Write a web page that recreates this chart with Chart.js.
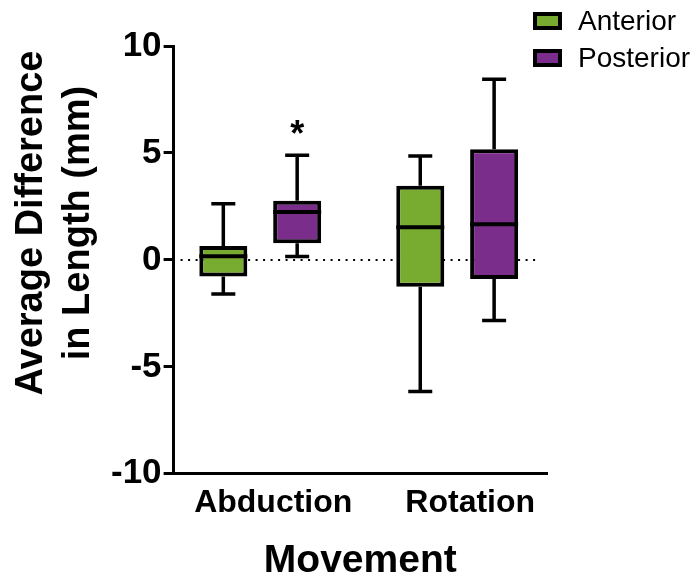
<!DOCTYPE html>
<html>
<head>
<meta charset="utf-8">
<script src="https://cdn.jsdelivr.net/npm/chart.js@4.4.0/dist/chart.umd.min.js"></script>
<style>
  html, body { margin: 0; padding: 0; background: #fff; }
  #wrap { position: relative; width: 693px; height: 578px; }
  #legend { position: absolute; left: 533px; top: 2px; font-family: 'Liberation Sans', Arial, sans-serif; font-size: 28px; color: #000; }
  .item { display: flex; align-items: center; height: 37px; }
  .swatch { box-sizing: border-box; width: 29px; height: 18px; border: 4px solid #000; margin-right: 16px; }
</style>
</head>
<body>
<div id="wrap">
  <canvas id="chart" width="693" height="578"></canvas>
  <div id="legend"></div>
</div>
<script>
const categories = ['Abduction', 'Rotation'];
const seriesNames = ['Anterior', 'Posterior'];
const seriesColors = ['#78ac30', '#7b2d8c'];

// box plot stats per category
const anteriorMin = [-1.6, -6.15];
const anteriorQ1 = [-0.78, -1.25];
const anteriorMedian = [0.17, 1.53];
const anteriorQ3 = [0.65, 3.47];
const anteriorMax = [2.62, 4.86];

const posteriorMin = [0.16, -2.83];
const posteriorQ1 = [0.78, -0.89];
const posteriorMedian = [2.24, 1.67];
const posteriorQ3 = [2.77, 5.17];
const posteriorMax = [4.89, 8.44];

const anteriorMarks = ['', ''];
const posteriorMarks = ['*', ''];

const yTicks = [-10, -5, 0, 5, 10];

const stats = [
  { min: anteriorMin, q1: anteriorQ1, med: anteriorMedian, q3: anteriorQ3, max: anteriorMax, marks: anteriorMarks },
  { min: posteriorMin, q1: posteriorQ1, med: posteriorMedian, q3: posteriorQ3, max: posteriorMax, marks: posteriorMarks }
];

const FONT = "'Liberation Sans', Arial, sans-serif";

const boxPlot = {
  id: 'boxPlot',
  beforeDatasetsDraw(chart) {
    const { ctx, chartArea, scales: { y } } = chart;
    ctx.save();
    // dotted zero line
    ctx.setLineDash([2, 5.5]);
    ctx.lineWidth = 2;
    ctx.strokeStyle = '#000';
    const y0 = y.getPixelForValue(0);
    ctx.beginPath();
    ctx.moveTo(chartArea.left + 7, y0);
    ctx.lineTo(chartArea.right - 7, y0);
    ctx.stroke();
    ctx.setLineDash([]);
    // whiskers
    ctx.lineWidth = 3.5;
    stats.forEach((s, di) => {
      chart.getDatasetMeta(di).data.forEach((bar, i) => {
        const x = bar.x;
        const cap = 12;
        const yMax = y.getPixelForValue(s.max[i]);
        const yMin = y.getPixelForValue(s.min[i]);
        ctx.beginPath();
        ctx.moveTo(x, y.getPixelForValue(s.q3[i]));
        ctx.lineTo(x, yMax);
        ctx.moveTo(x - cap, yMax);
        ctx.lineTo(x + cap, yMax);
        ctx.moveTo(x, y.getPixelForValue(s.q1[i]));
        ctx.lineTo(x, yMin);
        ctx.moveTo(x - cap, yMin);
        ctx.lineTo(x + cap, yMin);
        ctx.stroke();
      });
    });
    ctx.restore();
  },
  afterDatasetsDraw(chart) {
    const { ctx, scales: { y } } = chart;
    ctx.save();
    ctx.lineWidth = 4;
    ctx.strokeStyle = '#000';
    ctx.fillStyle = '#000';
    stats.forEach((s, di) => {
      chart.getDatasetMeta(di).data.forEach((bar, i) => {
        const half = bar.width / 2;
        const ym = y.getPixelForValue(s.med[i]);
        ctx.beginPath();
        ctx.moveTo(bar.x - half, ym);
        ctx.lineTo(bar.x + half, ym);
        ctx.stroke();
        if (s.marks[i]) {
          ctx.font = 'bold 36px ' + FONT;
          ctx.textAlign = 'center';
          ctx.textBaseline = 'alphabetic';
          ctx.fillText(s.marks[i], bar.x, y.getPixelForValue(s.max[i]) - 9);
        }
      });
    });
    ctx.restore();
  },
  afterDraw(chart) {
    // y axis title, two centred lines
    const { ctx } = chart;
    ctx.save();
    ctx.font = 'bold 38px ' + FONT;
    ctx.fillStyle = '#000';
    ctx.textAlign = 'center';
    ctx.textBaseline = 'alphabetic';
    [['Average Difference', 42], ['in Length (mm)', 89]].forEach(([txt, bx]) => {
      ctx.save();
      ctx.translate(bx, 223);
      ctx.rotate(-Math.PI / 2);
      ctx.fillText(txt, 0, 0);
      ctx.restore();
    });
    ctx.restore();
  }
};

const chart = new Chart(document.getElementById('chart'), {
  type: 'bar',
  data: {
    datasets: stats.map((s, di) => ({
      label: seriesNames[di],
      data: categories.map((_, i) => ({ x: i, y: [s.q1[i], s.q3[i]] })),
      backgroundColor: seriesColors[di],
      borderColor: '#000',
      borderWidth: 4,
      borderSkipped: false,
      categoryPercentage: 0.75,
      barPercentage: 0.65
    }))
  },
  options: {
    responsive: false,
    animation: false,
    layout: { padding: { top: 46, right: 146, left: 109, bottom: 0 } },
    plugins: { legend: { display: false }, tooltip: { enabled: false } },
    scales: {
      x: {
        type: 'linear',
        offset: false,
        min: -0.44,
        max: 1.456,
        afterBuildTicks: (axis) => { axis.ticks = categories.map((_, i) => ({ value: i })); },
        grid: { display: false },
        border: { color: '#000', width: 3 },
        ticks: {
          color: '#000', font: { family: FONT, size: 32, weight: 'bold' }, labelOffset: 13, padding: 2,
          callback: (v) => categories[v]
        },
        title: { display: true, text: 'Movement', color: '#000', font: { family: FONT, size: 39, weight: 'bold' }, padding: { top: 14, bottom: -7 } }
      },
      y: {
        min: yTicks[0],
        max: yTicks[yTicks.length - 1],
        afterBuildTicks: (axis) => { axis.ticks = yTicks.map(v => ({ value: v })); },
        grid: { drawOnChartArea: false, color: '#000', lineWidth: 3, tickLength: 10 },
        border: { color: '#000', width: 3 },
        ticks: { color: '#000', font: { family: FONT, size: 35, weight: 'bold' }, padding: 2 }
      }
    }
  },
  plugins: [boxPlot]
});

// html legend built from the datasets
const legend = document.getElementById('legend');
chart.data.datasets.forEach(ds => {
  const item = document.createElement('div');
  item.className = 'item';
  const sw = document.createElement('span');
  sw.className = 'swatch';
  sw.style.background = ds.backgroundColor;
  const label = document.createElement('span');
  label.textContent = ds.label;
  item.appendChild(sw);
  item.appendChild(label);
  legend.appendChild(item);
});
</script>
</body>
</html>
